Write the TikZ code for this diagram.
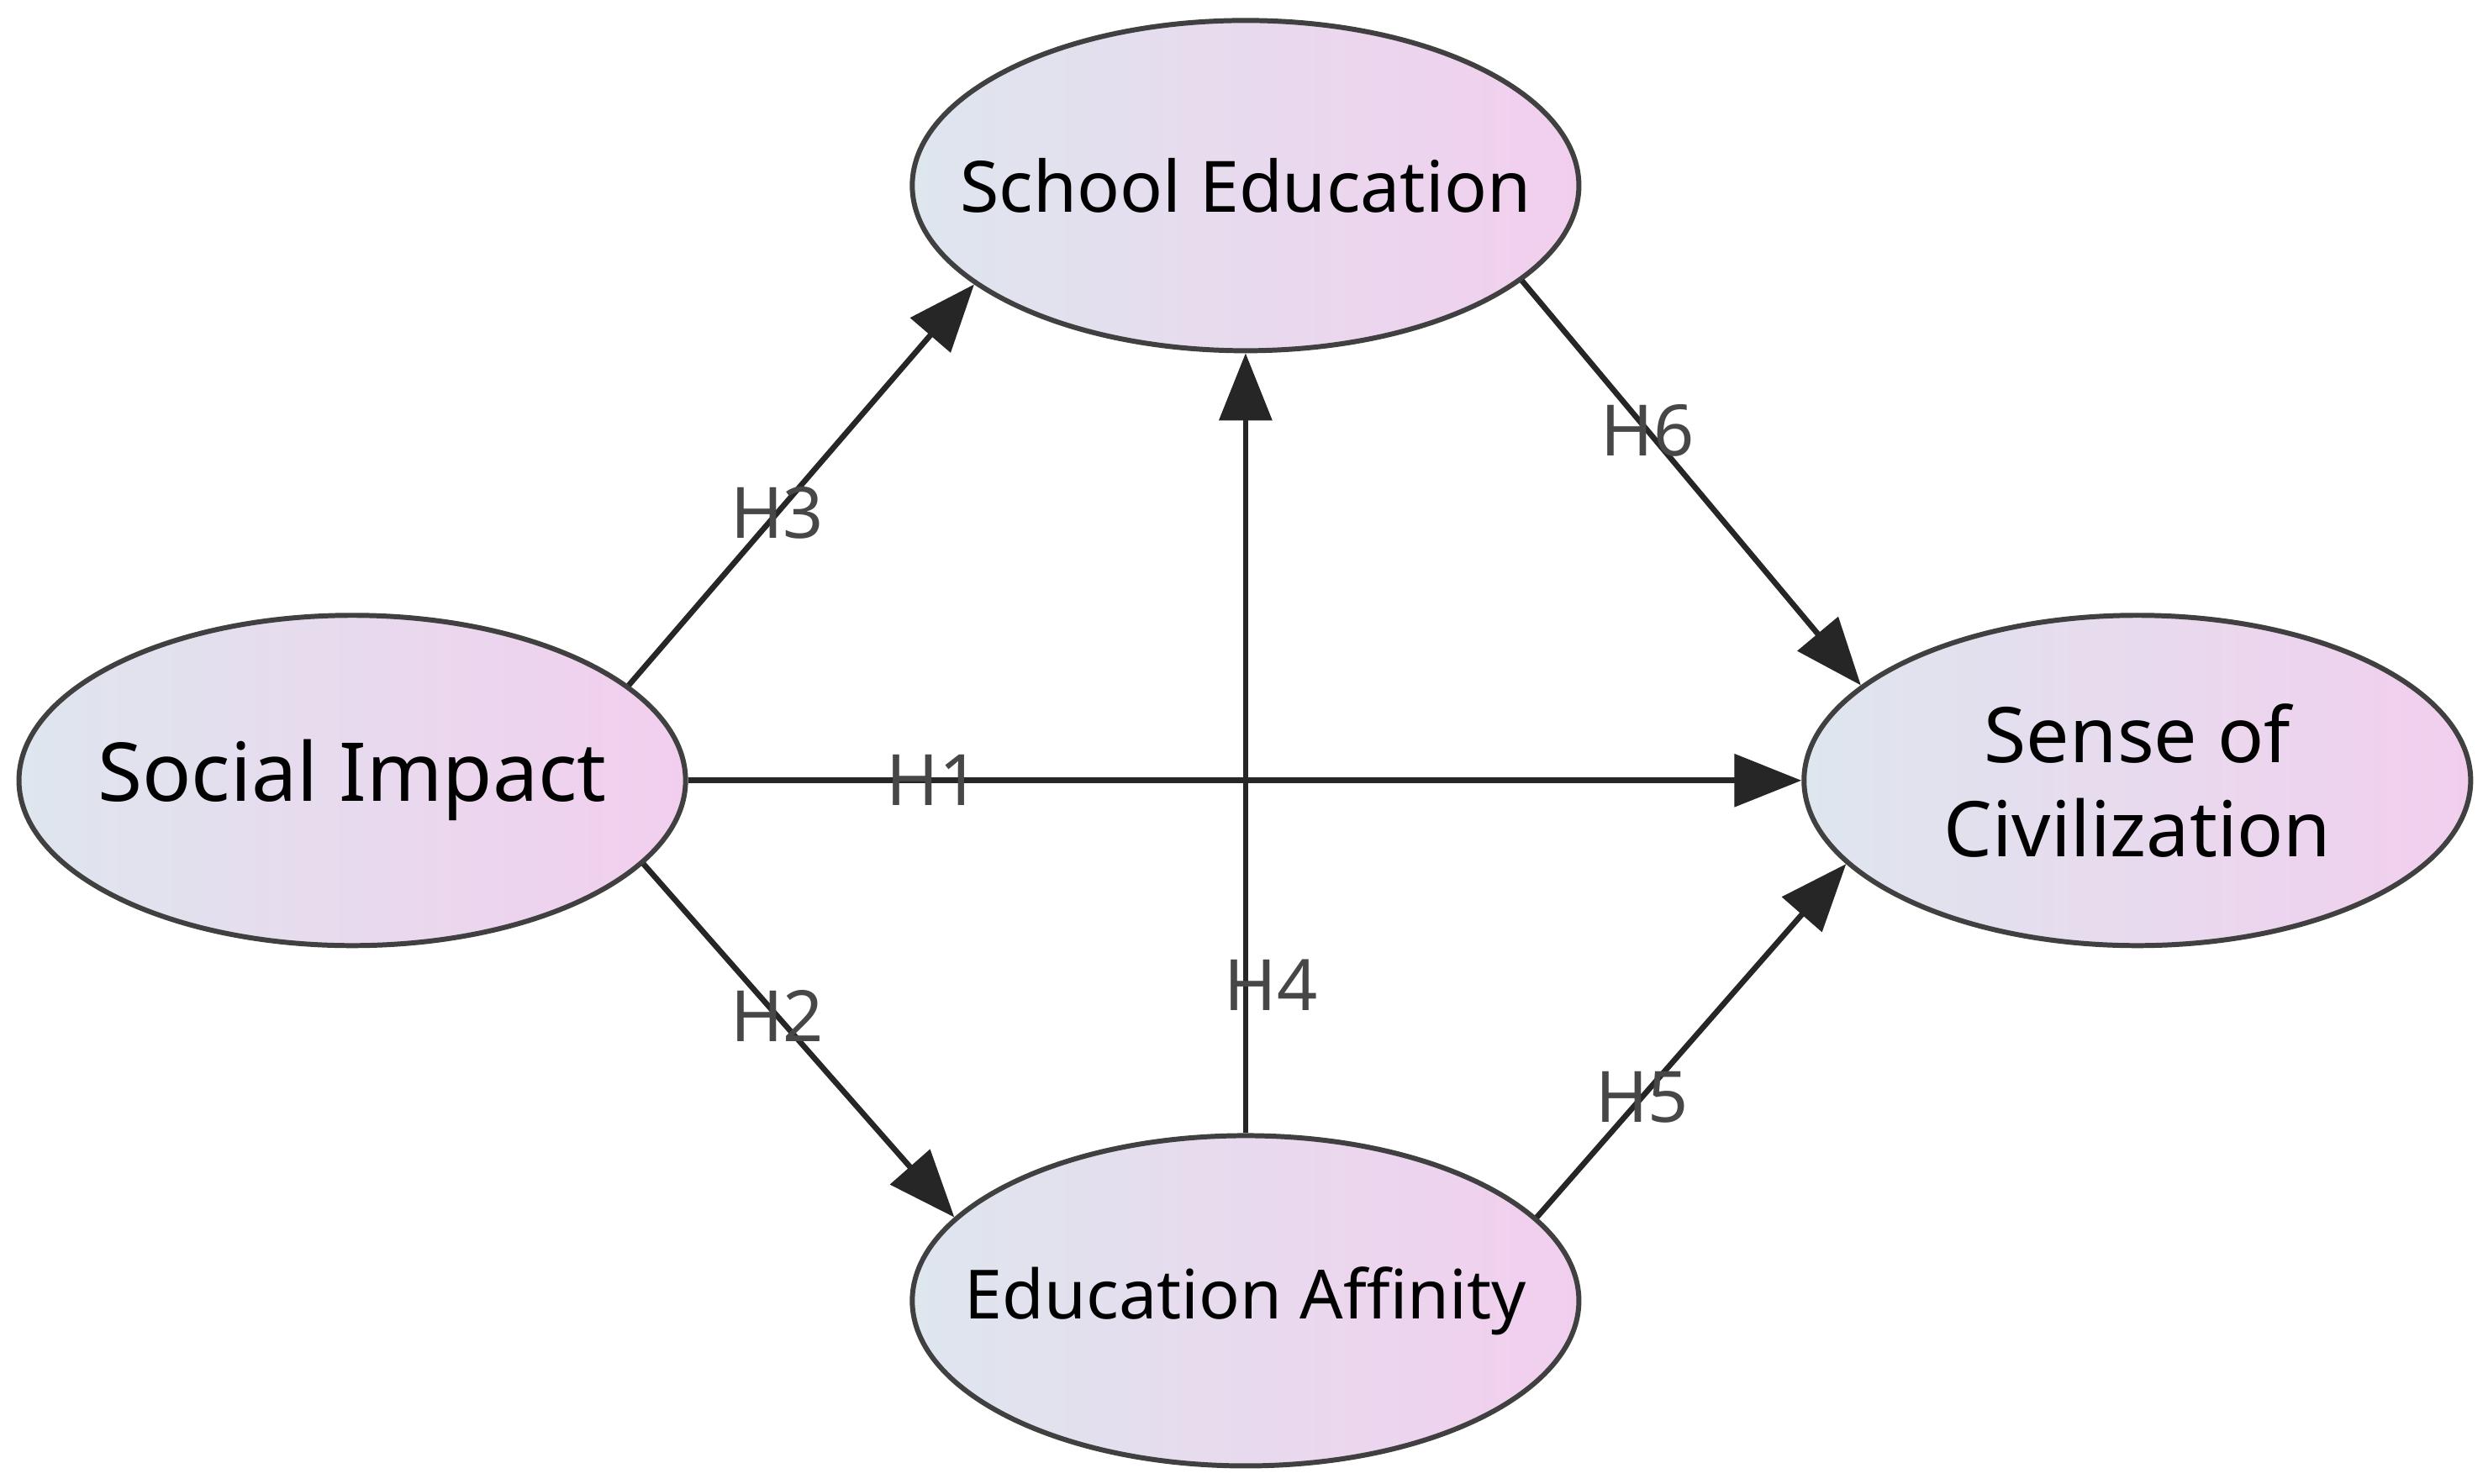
\documentclass[tikz,border=0pt]{standalone}
\usepackage{fontspec}
\setmainfont{Noto Sans}
\usetikzlibrary{arrows.meta,shapes.geometric}
\definecolor{lc}{RGB}{222,230,238}
\definecolor{rc}{RGB}{242,206,238}
\begin{document}
\begin{tikzpicture}[x=0.018878cm,y=-0.018878cm,
  lat/.style={ellipse,draw=black!75,line width=1.7pt,minimum width=7.93cm,minimum height=3.93cm,
    left color=lc,right color=rc,align=center,inner xsep=-2cm,inner ysep=0pt},
  edge/.style={draw=black!85,line width=1.9pt,-{Triangle[length=0.8cm,width=0.62cm]}},
  hl/.style={text=black!72,font=\fontsize{24}{26}\selectfont\bfseries,inner sep=0pt}]
\useasboundingbox (0,0) rectangle (1568,935);
\node[lat,font=\fontsize{24}{28}\selectfont] (se) at (785,117) {School Education};
\node[lat,font=\fontsize{27.5}{32}\selectfont] (si) at (222,492) {Social Impact};
\node[lat,font=\fontsize{26}{32}\selectfont] (sc) at (1347,492) {Sense of\\Civilization};
\node[lat,font=\fontsize{23}{27}\selectfont] (ea) at (785,820) {Education Affinity};
\draw[edge] (si.19) -- node[hl,pos=0.43]{H3} (se.200);
\draw[edge] (si.-16) -- node[hl,pos=0.43]{H2} (ea.164);
\draw[edge] (si.east) -- node[hl,pos=0.22]{H1} (sc.west);
\draw[edge] (ea.north) -- node[hl,pos=0.19,xshift=0.3cm]{H4} (se.south);
\draw[edge] (se.-19) -- node[hl,pos=0.37]{H6} (sc.161);
\draw[edge] (ea.16.5) -- node[hl,pos=0.34]{H5} (sc.196);
\end{tikzpicture}
\end{document}
